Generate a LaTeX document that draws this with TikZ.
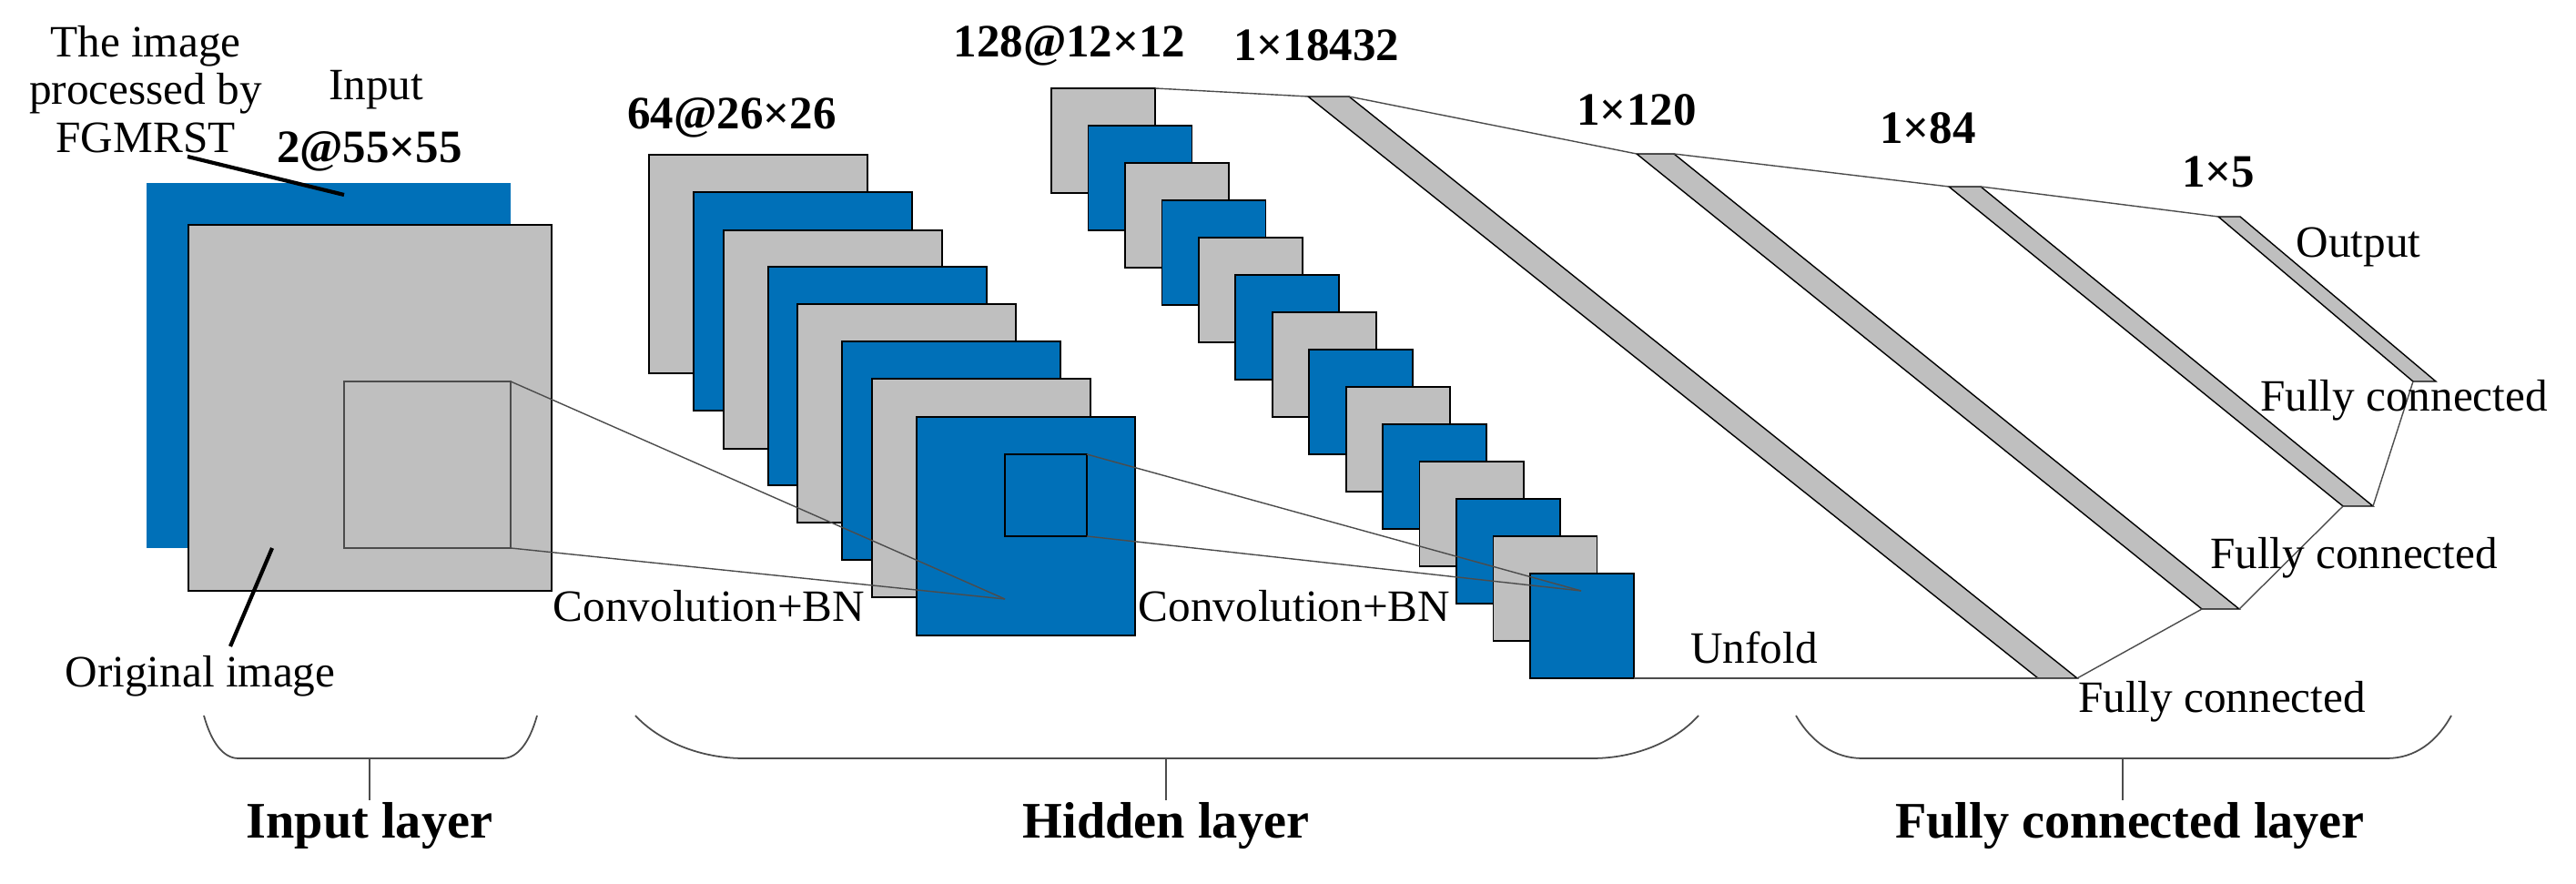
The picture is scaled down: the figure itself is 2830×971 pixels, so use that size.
\documentclass[tikz,border=0pt]{standalone}
\usepackage{fontspec}
\setmainfont{Liberation Serif}
\definecolor{cblue}{RGB}{0,112,184}
\definecolor{cgray}{RGB}{191,191,191}
\begin{document}
\begin{tikzpicture}[x=0.01cm,y=-0.01cm,
  gr/.style={fill=cgray,draw=black,line width=0.5pt},
  bl/.style={fill=cblue,draw=black,line width=0.5pt},
  thin/.style={draw=black!70,line width=0.4pt},
  lab/.style={font=\fontsize{14}{15}\selectfont,inner sep=0pt},
  blab/.style={font=\fontsize{14.5}{15}\selectfont\bfseries,inner sep=0pt},
  big/.style={font=\fontsize{16}{17}\selectfont\bfseries,inner sep=0pt},
  brace/.style={draw=black!70,line width=0.5pt}]
\useasboundingbox (0,0) rectangle (2830,971);
% input layer
\fill[cblue] (161,201) rectangle (561,602);
\draw[gr] (207,247) rectangle (606,649);
\draw[thin,fill=cgray] (378,419) rectangle (561,602);
\coordinate (iA) at (561,419); \coordinate (iB) at (561,602);
\node[lab,align=center] (t1) at (160,98) {The image\\processed by\\FGMRST};
\node[lab] (tin) at (413,99) {Input};
\node[blab] (t55) at (406,166) {2@55×55};
\draw[line width=1.2pt] (206,172) -- (378,214);
\draw[line width=1.2pt] (299,602) -- (253,710);
\node[lab] (torig) at (220,743) {Original image};
% stack 1
\foreach \x/\y/\s in {713/170/gr,762/211/bl,795/253/gr,844/293/bl,876/334/gr,925/375/bl,958/416/gr,1007/458/bl}
  \draw[\s] (\x,\y) rectangle ++(240,240);
\draw[line width=0.5pt] (1104,499) rectangle (1194,589);
\coordinate (p1) at (1104,658);
\draw[thin] (iA) -- (p1); \draw[thin] (iB) -- (p1);
\node[blab] (t64) at (804,129) {64@26×26};
\node[lab] (cb1) at (779,666) {Convolution+BN};
% stack 2
\foreach \i in {0,...,13}{
  \pgfmathtruncatemacro{\m}{mod(\i,2)}
  \ifnum\m=0 \draw[gr] (1155+40.46*\i,97+41*\i) rectangle ++(114,115);
  \else \draw[bl] (1155+40.46*\i,97+41*\i) rectangle ++(114,115); \fi}
\coordinate (s2a) at (1269,97);
\coordinate (s2b) at (1795,745);
\coordinate (p2) at (1737,649);
\coordinate (jA) at (1194,499); \coordinate (jB) at (1194,589);
\draw[thin] (jA) -- (p2); \draw[thin] (jB) -- (p2);
\node[blab] (t128) at (1175,50) {128@12×12};
\node[lab] (cb2) at (1422,666) {Convolution+BN};
% bars
\draw[gr,line width=0.4pt] (1437,106) coordinate (b1tl) -- (1482,106) coordinate (b1tr) -- (2282,745) coordinate (b1br) -- (2239,745) coordinate (b1bl) -- cycle;
\draw[gr,line width=0.4pt] (1798,169) coordinate (b2tl) -- (1839,169) coordinate (b2tr) -- (2460,669) coordinate (b2br) -- (2419,669) coordinate (b2bl) -- cycle;
\draw[gr,line width=0.4pt] (2141,205) coordinate (b3tl) -- (2176,205) coordinate (b3tr) -- (2607,556) coordinate (b3br) -- (2574,556) coordinate (b3bl) -- cycle;
\draw[gr,line width=0.4pt] (2437,238) coordinate (b4tl) -- (2461,238) coordinate (b4tr) -- (2676,419) coordinate (b4br) -- (2651,419) coordinate (b4bl) -- cycle;
\draw[thin] (s2a) -- (b1tl); \draw[thin] (b1tr) -- (b2tl); \draw[thin] (b2tr) -- (b3tl); \draw[thin] (b3tr) -- (b4tl);
\draw[thin] (s2b) -- (b1bl); \draw[thin] (b1br) -- (b2bl); \draw[thin] (b2br) -- (b3bl); \draw[thin] (b3br) -- (b4bl);
\node[blab] (t18432) at (1446,50) {1×18432};
\node[blab] (t120) at (1798,121) {1×120};
\node[blab] (t84) at (2118,141) {1×84};
\node[blab] (t5) at (2437,189) {1×5};
\node[lab] (tout) at (2591,271) {Output};
\node[lab] (fc1) at (2641,440) {Fully connected};
\node[lab] (fc2) at (2586,613) {Fully connected};
\node[lab] (fc3) at (2441,771) {Fully connected};
\node[lab] (tunf) at (1927,711) {Unfold};
% braces
\draw[brace] (224,786) .. controls (232,815) and (245,833) .. (262,833) -- (552,833) .. controls (569,833) and (582,815) .. (590,786);
\draw[brace] (406,833) -- (406,879);
\node[big] (L1) at (406,907) {Input layer};
\draw[brace] (698,786) .. controls (725,815) and (770,833) .. (817,833) -- (1749,833) .. controls (1796,833) and (1840,815) .. (1866,786);
\draw[brace] (1281,833) -- (1281,879);
\node[big] (L2) at (1281,907) {Hidden layer};
\draw[brace] (1973,786) .. controls (1990,815) and (2015,833) .. (2046,833) -- (2622,833) .. controls (2653,833) and (2677,815) .. (2693,786);
\draw[brace] (2332,833) -- (2332,879);
\node[big] (L3) at (2340,907) {Fully connected layer};
\end{tikzpicture}
\end{document}
